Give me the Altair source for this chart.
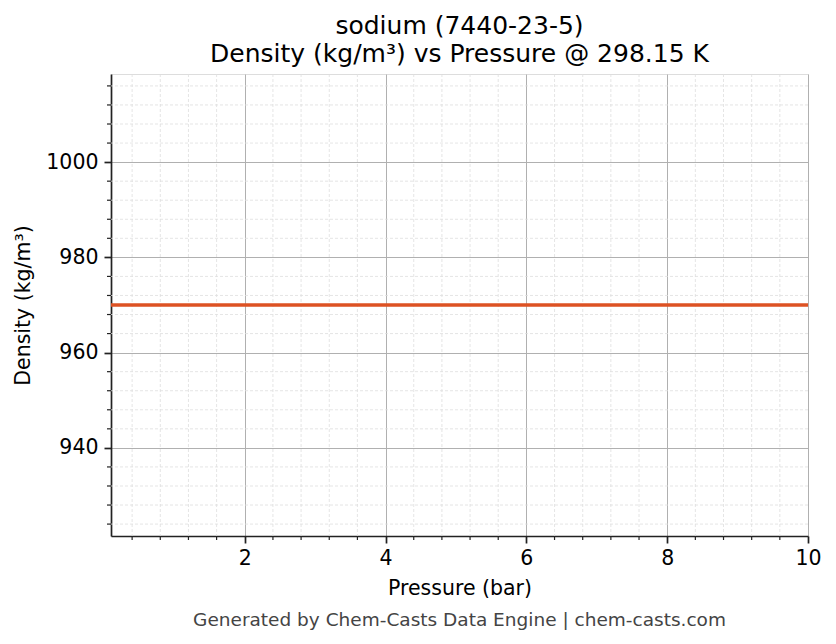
import altair as alt
import pandas as pd

# sodium, density vs pressure at 298.15 K (flat line)
pressure_bar = [0.1, 1.0, 2.0, 3.0, 4.0, 5.0, 6.0, 7.0, 8.0, 9.0, 10.0]
density_kg_m3 = [970.0, 970.0, 970.0, 970.0, 970.0, 970.0, 970.0, 970.0, 970.0, 970.0, 970.0]

x_domain = [0.1, 10.0]
y_domain = [921.5, 1018.5]

# major ticks (labelled) and minor ticks
x_major = [2, 4, 6, 8, 10]
y_major = [940, 960, 980, 1000]
x_minor = [0.4, 0.8, 1.2, 1.6, 2.4, 2.8, 3.2, 3.6, 4.4, 4.8, 5.2, 5.6,
           6.4, 6.8, 7.2, 7.6, 8.4, 8.8, 9.2, 9.6]
y_minor = [924, 928, 932, 936, 944, 948, 952, 956, 964, 968, 972, 976,
           984, 988, 992, 996, 1004, 1008, 1012, 1016]

title_lines = ["sodium (7440-23-5)", "Density (kg/m³) vs Pressure @ 298.15 K"]
footer = ["Generated by Chem-Casts Data Engine | chem-casts.com"]

FONT = "DejaVu Sans"
W, H = 697, 462
SPINE = "#222222"


def make_axis(title, values, **kw):
    return alt.Axis(
        title=title,
        values=values,
        format="d",
        labelOverlap=False,
        labelFlush=False,
        labelFont=FONT,
        labelFontSize=20.5,
        labelColor="black",
        titleFont=FONT,
        titleFontSize=20.5,
        titleFontWeight="normal",
        titleColor="black",
        domainColor=SPINE,
        domainWidth=1.7,
        tickColor=SPINE,
        tickSize=7,
        tickWidth=1.7,
        gridColor="#b0b0b0",
        gridWidth=1,
        **kw,
    )


x_enc = alt.X("pressure:Q", scale=alt.Scale(domain=x_domain, nice=False, zero=False),
              axis=make_axis("Pressure (bar)", x_major, labelPadding=5, titlePadding=10))
y_enc = alt.Y("density:Q", scale=alt.Scale(domain=y_domain, nice=False, zero=False),
              axis=make_axis("Density (kg/m³)", y_major, labelPadding=6, titlePadding=12))

df = pd.DataFrame({"pressure": pressure_bar, "density": density_kg_m3})
xm = pd.DataFrame({"pressure": x_minor})
ym = pd.DataFrame({"density": y_minor})

minor_style = dict(color="#dedede", strokeWidth=0.8, strokeDash=[3, 2])
x_minor_grid = alt.Chart(xm).mark_rule(**minor_style).encode(x=x_enc)
y_minor_grid = alt.Chart(ym).mark_rule(**minor_style).encode(y=y_enc)

line = alt.Chart(df).mark_line(color="#dd5223", strokeWidth=3.5).encode(x=x_enc, y=y_enc)

x_minor_ticks = (
    alt.Chart(xm)
    .mark_rule(color=SPINE, strokeWidth=1.2)
    .encode(x=x_enc, y=alt.value(H), y2=alt.value(H + 4))
)
y_minor_ticks = (
    alt.Chart(ym)
    .mark_rule(color=SPINE, strokeWidth=1.2)
    .encode(y=y_enc, x=alt.value(-4), x2=alt.value(0))
)

foot = (
    alt.Chart(pd.DataFrame({"t": footer}))
    .mark_text(font=FONT, fontSize=18.5, color="#444444", baseline="alphabetic", align="center")
    .encode(text="t:N", x=alt.value(W / 2), y=alt.value(552))
)

chart = (
    alt.layer(x_minor_grid, y_minor_grid, line, x_minor_ticks, y_minor_ticks, foot)
    .properties(
        width=W,
        height=H,
        autosize=alt.AutoSizeParams(type="none"),
        padding={"left": 103, "top": 66, "right": 20, "bottom": 100},
        title=alt.TitleParams(
            text=title_lines,
            font=FONT,
            fontSize=25,
            fontWeight="normal",
            color="black",
            lineHeight=28,
            anchor="middle",
            offset=7,
        ),
    )
    .configure_view(stroke=SPINE, strokeWidth=1.7)
    .configure(background="white")
)

chart.save("out.html", embed_options={"renderer": "svg", "actions": False})
